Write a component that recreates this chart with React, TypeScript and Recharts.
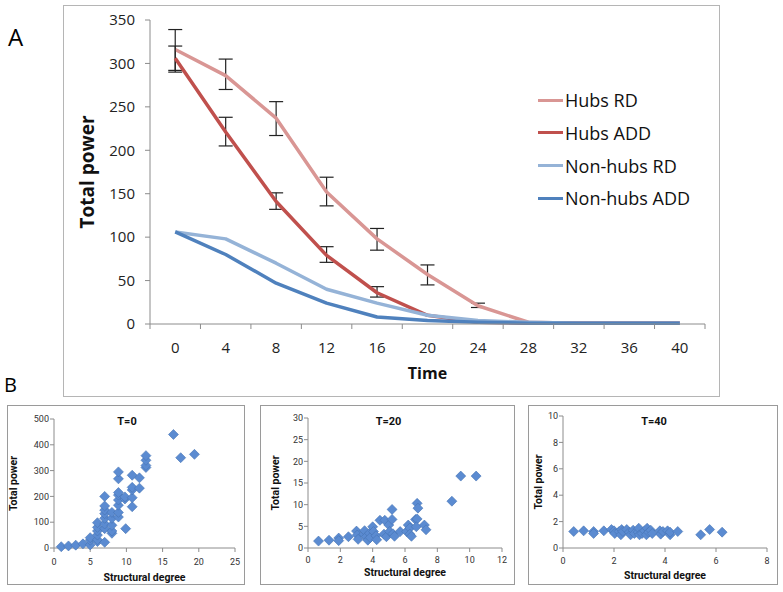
import React from "react";
import { LineChart, Line, XAxis, YAxis, ErrorBar, ScatterChart, Scatter } from "recharts";

// Panel A: total power over time
const times = [0, 4, 8, 12, 16, 20, 24, 28, 32, 36, 40];
const hubsRD = [316, 286, 237, 152, 98, 57, 21, 2, 1, 1, 1];
const hubsADD = [306, 221, 141, 79, 36, 10, 2, 1, 1, 1, 1];
const nonHubsRD = [106, 98, 70, 40, 24, 10, 4, 2, 1, 1, 1];
const nonHubsADD = [106, 80, 47, 24, 8, 4, 2, 1, 1, 1, 1];
const hubsRDLow = [292, 270, 217, 136, 85, 45, 19, null, null, null, null];
const hubsRDHigh = [339, 305, 256, 169, 110, 68, 24, null, null, null, null];
const hubsADDLow = [290, 205, 132, 71, 31, null, null, null, null, null, null];
const hubsADDHigh = [320, 238, 151, 89, 43, null, null, null, null, null, null];
const yTicksA = [0, 50, 100, 150, 200, 250, 300, 350];

// Panel B: total power vs structural degree, [degree, power]
const t0Points = [
  [1, 5], [2, 8], [3, 11], [4, 16], [5, 12], [5, 30], [5, 40],
  [6, 25], [6, 32], [6, 50], [6, 66], [6, 80], [6, 98],
  [7, 22], [7, 75], [7, 93], [7, 115], [7, 133], [7, 147], [7, 163], [7, 200],
  [8, 57], [8, 66], [8, 88], [8, 115], [8, 138],
  [8.9, 120], [8.9, 138], [8.9, 166], [8.9, 186], [8.9, 205], [8.9, 215], [8.9, 268], [8.9, 295],
  [9.8, 190], [9.8, 198], [9.9, 75],
  [10.8, 160], [10.8, 195], [10.8, 225], [10.8, 235], [10.8, 282],
  [11.8, 232], [11.8, 272],
  [12.7, 312], [12.7, 320], [12.7, 340], [12.7, 358],
  [16.5, 440], [17.5, 350], [19.4, 363],
];
const t20Points = [
  [0.65, 1.6], [1.3, 1.8], [1.9, 2.3], [1.9, 1.7], [2.5, 2.6],
  [3, 3.9], [3.05, 3], [3.1, 2], [3.45, 3.2], [3.5, 4], [3.6, 2.6], [3.7, 1.8], [3.8, 3.4], [3.85, 2.4],
  [4, 4.9], [4.05, 3.8], [4.2, 2.8], [4.25, 1.9], [4.45, 6.4], [4.75, 6.4], [4.7, 3.2], [4.85, 2.6],
  [5, 5.3], [5.05, 3.8], [5.2, 8.9], [5.2, 6.6], [5.25, 3.3], [5.35, 2.7], [5.7, 3.8],
  [6.1, 3.8], [6.2, 5.3], [6.3, 4.6], [6.3, 3.2], [6.4, 2.7],
  [6.65, 6.6], [6.75, 10.3], [6.8, 9.2], [6.75, 6.7], [6.7, 4.9], [7.2, 5.3], [7.3, 4.2],
  [8.9, 10.8], [9.45, 16.6], [10.4, 16.6],
];
const t40Points = [
  [0.42, 1.25], [0.81, 1.3], [1.2, 1.25], [1.2, 1.1], [1.6, 1.3], [1.9, 1.4], [2, 1.3], [2.03, 1.1],
  [2.2, 1.25], [2.3, 1.4], [2.27, 1], [2.35, 1.25], [2.5, 1.4], [2.6, 1.2], [2.65, 1], [2.75, 1.35],
  [2.8, 1.1], [2.95, 1.2], [2.97, 1.5], [3, 1], [3.1, 1.1], [3.2, 1.3], [3.27, 1], [3.3, 1.5],
  [3.36, 1.2], [3.44, 1.35], [3.5, 1.1], [3.8, 1.3], [3.83, 1.05], [3.92, 1.25], [4.1, 1.3],
  [4.2, 1], [4.2, 1.2], [4.5, 1.25], [5.4, 1], [5.75, 1.4], [6.24, 1.2],
];
const t0XTicks = [0, 5, 10, 15, 20, 25];
const t0YTicks = [0, 100, 200, 300, 400, 500];
const t20XTicks = [0, 2, 4, 6, 8, 10, 12];
const t20YTicks = [0, 5, 10, 15, 20, 25, 30];
const t40XTicks = [0, 2, 4, 6, 8];
const t40YTicks = [0, 2, 4, 6, 8, 10];

const seriesA = [
  { key: "hubsRD", name: "Hubs RD", color: "#d99694", err: "hubsRDErr" },
  { key: "hubsADD", name: "Hubs ADD", color: "#c0504d", err: "hubsADDErr" },
  { key: "nonHubsRD", name: "Non-hubs RD", color: "#95b3d7", err: null },
  { key: "nonHubsADD", name: "Non-hubs ADD", color: "#4f81bd", err: null },
];

const errPair = (v: number, lo: number | null, hi: number | null) =>
  lo == null || hi == null ? undefined : [v - lo, hi - v];

const tableA = times.map((t, i) => ({
  time: t,
  hubsRD: hubsRD[i],
  hubsADD: hubsADD[i],
  nonHubsRD: nonHubsRD[i],
  nonHubsADD: nonHubsADD[i],
  hubsRDErr: errPair(hubsRD[i], hubsRDLow[i], hubsRDHigh[i]),
  hubsADDErr: errPair(hubsADD[i], hubsADDLow[i], hubsADDHigh[i]),
}));

// label ticks on the times, tick marks between them (Excel style)
const boundaries = times.map((t) => t - 2).concat([times[times.length - 1] + 2]);
const xTicksA = [...boundaries, ...times].sort((a, b) => a - b);

const AXIS = "#8c8c8c";
const FONT_A = "'Open Sans', sans-serif";
const FONT_B = "Roboto, sans-serif";
const TICK_SIZE_A = 5;
const TICK_MARGIN_A = 13;

const TimeTick = (props: any) => {
  const { x, y, payload } = props;
  const v = payload.value;
  if (times.includes(v)) {
    return (
      <text x={x} y={y} dy="0.71em" textAnchor="middle" fontSize={15} fill="#222" fontFamily={FONT_A}>
        {v}
      </text>
    );
  }
  const axisY = y - TICK_SIZE_A - TICK_MARGIN_A;
  return <line x1={x} x2={x} y1={axisY} y2={axisY + TICK_SIZE_A} stroke={AXIS} />;
};

const Diamond = (props: any) => {
  const { cx, cy } = props;
  if (cx == null || cy == null) return null;
  const r = 5;
  return (
    <path
      d={`M${cx},${cy - r}L${cx + r},${cy}L${cx},${cy + r}L${cx - r},${cy}Z`}
      fill="#5b8bd1"
      stroke="#4673b4"
      strokeWidth={0.6}
    />
  );
};

const panelsB = [
  {
    title: "T=0", points: t0Points, xTicks: t0XTicks, yTicks: t0YTicks,
    box: { left: 7, top: 405, width: 238, height: 180 },
    plot: { left: 54, top: 419, right: 235, bottom: 548 },
    yTitleX: 13, xTitleY: 577, tickGap: 7,
  },
  {
    title: "T=20", points: t20Points, xTicks: t20XTicks, yTicks: t20YTicks,
    box: { left: 260, top: 405, width: 255, height: 180 },
    plot: { left: 308, top: 418, right: 502, bottom: 548 },
    yTitleX: 275, xTitleY: 572, tickGap: 5,
  },
  {
    title: "T=40", points: t40Points, xTicks: t40XTicks, yTicks: t40YTicks,
    box: { left: 528, top: 405, width: 250, height: 180 },
    plot: { left: 563, top: 416, right: 767, bottom: 548 },
    yTitleX: 538, xTitleY: 575, tickGap: 6,
  },
];

const ScatterPanel = ({ panel }: { panel: (typeof panelsB)[number] }) => {
  const { box, plot } = panel;
  const ox = box.left + 1;
  const oy = box.top + 1;
  const w = box.width - 2;
  const h = box.height - 2;
  const marginLeft = panel.yTitleX - ox;
  const yWidth = plot.left - ox - marginLeft;
  const xHeight = oy + h - plot.bottom;
  const data = panel.points.map(([x, y]) => ({ x, y }));
  const xMax = panel.xTicks[panel.xTicks.length - 1];
  const yMax = panel.yTicks[panel.yTicks.length - 1];
  const tick = { fontSize: 9, fill: "#333", fontFamily: FONT_B };
  const titleStyle = { fontSize: 10.5, fontWeight: 700, fill: "#111", fontFamily: FONT_B };
  return (
    <div
      style={{
        position: "absolute",
        left: box.left,
        top: box.top,
        width: box.width,
        height: box.height,
        border: "1px solid #9a9a9a",
        boxSizing: "border-box",
      }}
    >
      <ScatterChart
        width={w}
        height={h}
        margin={{ top: plot.top - oy, right: ox + w - plot.right, bottom: 0, left: marginLeft }}
      >
        <XAxis
          type="number"
          dataKey="x"
          domain={[0, xMax]}
          ticks={panel.xTicks}
          interval={0}
          height={xHeight}
          tickSize={4}
          tickMargin={panel.tickGap}
          stroke={AXIS}
          tick={tick}
          label={{
            value: "Structural degree",
            position: "insideBottom",
            offset: oy + h - (panel.xTitleY + 3.5),
            style: titleStyle,
          }}
        />
        <YAxis
          type="number"
          dataKey="y"
          domain={[0, yMax]}
          ticks={panel.yTicks}
          interval={0}
          width={yWidth}
          tickSize={4}
          tickMargin={1}
          stroke={AXIS}
          tick={tick}
          label={{
            value: "Total power",
            angle: -90,
            position: "insideLeft",
            offset: 0,
            style: { ...titleStyle, textAnchor: "middle" },
          }}
        />
        <Scatter data={data} shape={(p: any) => <Diamond {...p} />} isAnimationActive={false} />
      </ScatterChart>
      <div
        style={{
          position: "absolute",
          left: 0,
          width: box.width,
          top: 9,
          textAlign: "center",
          fontFamily: FONT_B,
          fontWeight: 700,
          fontSize: 11,
          color: "#111",
          lineHeight: "14px",
        }}
      >
        {panel.title}
      </div>
    </div>
  );
};

export default function App() {
  return (
    <div
      style={{
        position: "absolute",
        left: 0,
        top: 0,
        width: 783,
        height: 592,
        background: "#fff",
        overflow: "hidden",
      }}
    >
      <div style={{ position: "absolute", left: 8, top: 22, fontFamily: FONT_A, fontSize: 24, lineHeight: "30px" }}>
        A
      </div>
      <div style={{ position: "absolute", left: 4, top: 372, fontFamily: FONT_A, fontSize: 20, lineHeight: "26px" }}>
        B
      </div>

      <div
        style={{
          position: "absolute",
          left: 63,
          top: 5,
          width: 657,
          height: 392,
          border: "1px solid #b5b5b5",
          boxSizing: "border-box",
        }}
      >
        <LineChart width={655} height={390} data={tableA} margin={{ top: 14, right: 14, bottom: 0, left: 23 }}>
          <XAxis
            dataKey="time"
            type="number"
            domain={[-2, 42]}
            ticks={xTicksA}
            interval={0}
            height={72}
            tickSize={TICK_SIZE_A}
            tickMargin={TICK_MARGIN_A}
            tickLine={false}
            stroke={AXIS}
            tick={<TimeTick />}
            label={{
              value: "Time",
              position: "insideBottom",
              offset: 17,
              style: { fontSize: 16, fontWeight: 700, fill: "#111", fontFamily: FONT_A },
            }}
          />
          <YAxis
            type="number"
            domain={[0, 350]}
            ticks={yTicksA}
            interval={0}
            width={63}
            tickSize={5}
            tickMargin={10}
            stroke={AXIS}
            tick={{ fontSize: 15, fill: "#222", fontFamily: FONT_A }}
            label={{
              value: "Total power",
              angle: -90,
              position: "insideLeft",
              offset: 0,
              style: { fontSize: 19, fontWeight: 700, fill: "#111", fontFamily: FONT_A, textAnchor: "middle" },
            }}
          />
          {seriesA.map((s) => (
            <Line
              key={s.key}
              dataKey={s.key}
              name={s.name}
              type="linear"
              stroke={s.color}
              strokeWidth={3.5}
              strokeLinejoin="round"
              dot={false}
              activeDot={false}
              isAnimationActive={false}
            >
              {s.err && (
                <ErrorBar
                  dataKey={s.err}
                  direction="y"
                  width={7}
                  stroke="#222"
                  strokeWidth={1.2}
                  isAnimationActive={false}
                />
              )}
            </Line>
          ))}
        </LineChart>

        {seriesA.map((s, i) => (
          <div
            key={s.key}
            style={{
              position: "absolute",
              left: 538 - 64,
              top: 100 - 6 - 12 + i * 32.8,
              height: 24,
              display: "flex",
              alignItems: "center",
              fontFamily: FONT_A,
              fontSize: 18,
              color: "#111",
              whiteSpace: "nowrap",
            }}
          >
            <span style={{ display: "inline-block", width: 25, height: 3, background: s.color, marginRight: 2 }} />
            {s.name}
          </div>
        ))}
      </div>

      {panelsB.map((p) => (
        <ScatterPanel key={p.title} panel={p} />
      ))}
    </div>
  );
}
